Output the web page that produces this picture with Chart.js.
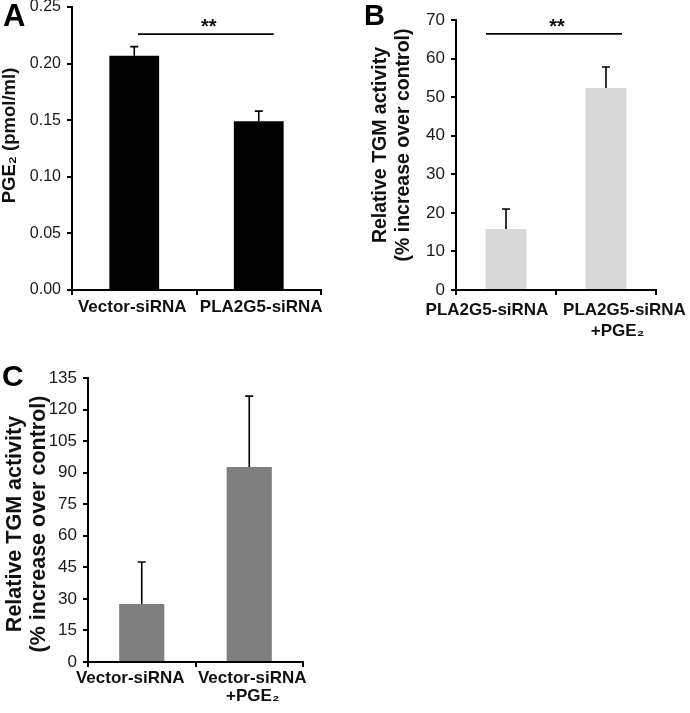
<!DOCTYPE html>
<html><head><meta charset="utf-8">
<script src="https://cdn.jsdelivr.net/npm/chart.js@4"></script>
<style>
html,body{margin:0;padding:0;background:#fff;}
body{width:690px;height:713px;position:relative;overflow:hidden;}
canvas{position:absolute;}
</style></head><body>
<canvas id="cA" width="345" height="345" style="left:0;top:0"></canvas>
<canvas id="cB" width="345" height="345" style="left:345px;top:0"></canvas>
<canvas id="cC" width="345" height="358" style="left:0;top:355px"></canvas>
<script>
// ---- data ----
const categoriesA = ['Vector-siRNA', 'PLA2G5-siRNA'];
const valuesA = [0.207, 0.149];
const errorsA = [0.008, 0.009];
const yTicksA = { max: 0.25, step: 0.05 };

const categoriesB = [['PLA2G5-siRNA'], ['PLA2G5-siRNA', '+PGE\u2082']];
const valuesB = [15.8, 52.4];
const errorsB = [5.2, 5.4];
const yTicksB = { max: 70, step: 10 };

const categoriesC = [['Vector-siRNA'], ['Vector-siRNA', '+PGE\u2082']];
const valuesC = [27.6, 92.7];
const errorsC = [19.9, 33.7];
const yTicksC = { max: 135, step: 15 };

const titleA = ['PGE\u2082 (pmol/ml)'];
const titleBC = ['Relative TGM activity', '(% increase over control)'];

const FONT = "'Liberation Sans', Arial, Helvetica, sans-serif";

function makeChart(id, cfg) {
  const plugin = {
    id: 'extras',
    afterDatasetsDraw(chart) {
      const ctx = chart.ctx, xs = chart.scales.x, ys = chart.scales.y;
      const meta = chart.getDatasetMeta(0);
      ctx.save();
      ctx.strokeStyle = '#000';
      ctx.lineWidth = 1.6;
      meta.data.forEach((el, i) => {
        const yt = ys.getPixelForValue(cfg.values[i] + cfg.errors[i]);
        ctx.beginPath();
        ctx.moveTo(el.x, el.y);
        ctx.lineTo(el.x, yt);
        ctx.moveTo(el.x - 4, yt);
        ctx.lineTo(el.x + 4, yt);
        ctx.stroke();
      });
      if (cfg.sig) {
        const yl = ys.getPixelForValue(cfg.sig.level);
        const x1 = xs.getPixelForValue(cfg.sig.from), x2 = xs.getPixelForValue(cfg.sig.to);
        ctx.lineWidth = 1.6;
        ctx.beginPath(); ctx.moveTo(x1, yl); ctx.lineTo(x2, yl); ctx.stroke();
        ctx.fillStyle = '#111';
        ctx.font = 'bold 20px ' + FONT;
        ctx.textAlign = 'center'; ctx.textBaseline = 'alphabetic';
        ctx.fillText('**', (x1 + x2) / 2 + cfg.sig.starShift, yl - 1);
      }
      // category labels
      ctx.fillStyle = '#111';
      ctx.font = 'bold 17px ' + FONT;
      ctx.textAlign = 'center'; ctx.textBaseline = 'middle';
      cfg.labels.forEach((lab, i) => {
        const lines = Array.isArray(lab) ? lab : [lab];
        lines.forEach((t, j) => {
          ctx.fillText(t, xs.getPixelForValue(i) + cfg.labelShift[i][j], xs.top + cfg.labelTop + j * cfg.labelGap);
        });
      });
      // y axis title (rotated)
      ctx.font = 'bold ' + cfg.titleSize + 'px ' + FONT;
      ctx.textAlign = 'center'; ctx.textBaseline = 'middle';
      const cy = (ys.top + ys.bottom) / 2 + cfg.titleShift;
      cfg.title.forEach((t, j) => {
        ctx.save();
        ctx.translate(cfg.titleX[j], cy);
        ctx.rotate(-Math.PI / 2);
        ctx.fillText(t, 0, 0);
        ctx.restore();
      });
      // panel letter
      ctx.font = 'bold ' + cfg.letter.size + 'px ' + FONT;
      ctx.textAlign = 'left'; ctx.textBaseline = 'alphabetic';
      ctx.fillStyle = '#000';
      ctx.fillText(cfg.letter.text, cfg.letter.x, cfg.letter.y);
      ctx.restore();
    }
  };
  return new Chart(document.getElementById(id), {
    type: 'bar',
    data: {
      labels: cfg.labels.map(l => Array.isArray(l) ? l.join(' ') : l),
      datasets: [{ data: cfg.values, backgroundColor: cfg.color, borderWidth: 0,
                   categoryPercentage: 1, barPercentage: cfg.barPct }]
    },
    options: {
      responsive: false, animation: false, events: [],
      layout: { padding: cfg.padding },
      plugins: { legend: { display: false }, tooltip: { enabled: false } },
      scales: {
        x: {
          grid: { display: true, drawOnChartArea: false, drawTicks: true, tickLength: 5, color: '#000', lineWidth: 2, offset: true },
          border: { display: true, color: '#000', width: 2 },
          ticks: { display: false },
          afterFit(s) { s.height = cfg.xHeight; s.paddingLeft = 0; s.paddingRight = 0; }
        },
        y: {
          min: 0, max: cfg.yt.max,
          ticks: { stepSize: cfg.yt.step, color: '#1a1a1a', padding: 6,
                   font: { family: FONT, size: cfg.tickSize },
                   callback: cfg.fmt },
          grid: { display: true, drawOnChartArea: false, drawTicks: true, tickLength: 5, color: '#000', lineWidth: 2 },
          border: { display: true, color: '#000', width: 2 },
          title: { display: false },
          afterFit(s) { s.width = cfg.yWidth; s.paddingTop = 0; s.paddingBottom = 0; }
        }
      }
    },
    plugins: [plugin]
  });
}

makeChart('cA', {
  labels: categoriesA, values: valuesA, errors: errorsA, yt: yTicksA,
  color: '#000000', barPct: 0.40,
  padding: { top: 7, right: 24, left: 0, bottom: 0 }, yWidth: 72, xHeight: 55,
  tickSize: 16, fmt: v => Number(v).toFixed(2),
  title: titleA, titleSize: 18.5, titleX: [10], titleShift: -13,
  sig: { level: 0.226, from: 0.03, to: 1.12, starShift: 3 },
  labelShift: [[-2], [2.5]], labelTop: 17, labelGap: 18,
  letter: { text: 'A', x: 3, y: 26, size: 31 }
});
makeChart('cB', {
  labels: categoriesB, values: valuesB, errors: errorsB, yt: yTicksB,
  color: '#d9d9d9', barPct: 0.41,
  padding: { top: 20, right: 34, left: 0, bottom: 0 }, yWidth: 111, xHeight: 55,
  tickSize: 17, fmt: v => String(v),
  title: titleBC, titleSize: 19.5, titleX: [36, 59], titleShift: -10,
  sig: { level: 66.4, from: -0.2, to: 1.16, starShift: 3 },
  labelShift: [[-19], [18.5, 11.5]], labelTop: 20, labelGap: 21,
  letter: { text: 'B', x: 19, y: 25, size: 29 }
});
makeChart('cC', {
  labels: categoriesC, values: valuesC, errors: errorsC, yt: yTicksC,
  color: '#7f7f7f', barPct: 0.42,
  padding: { top: 23, right: 42, left: 0, bottom: 0 }, yWidth: 88, xHeight: 51,
  tickSize: 17, fmt: v => String(v),
  title: titleBC, titleSize: 21.5, titleX: [15, 39], titleShift: 4,
  sig: null,
  labelShift: [[-11.5], [3, 3.5]], labelTop: 16, labelGap: 18,
  letter: { text: 'C', x: 2, y: 31, size: 30 }
});
</script>
</body></html>
